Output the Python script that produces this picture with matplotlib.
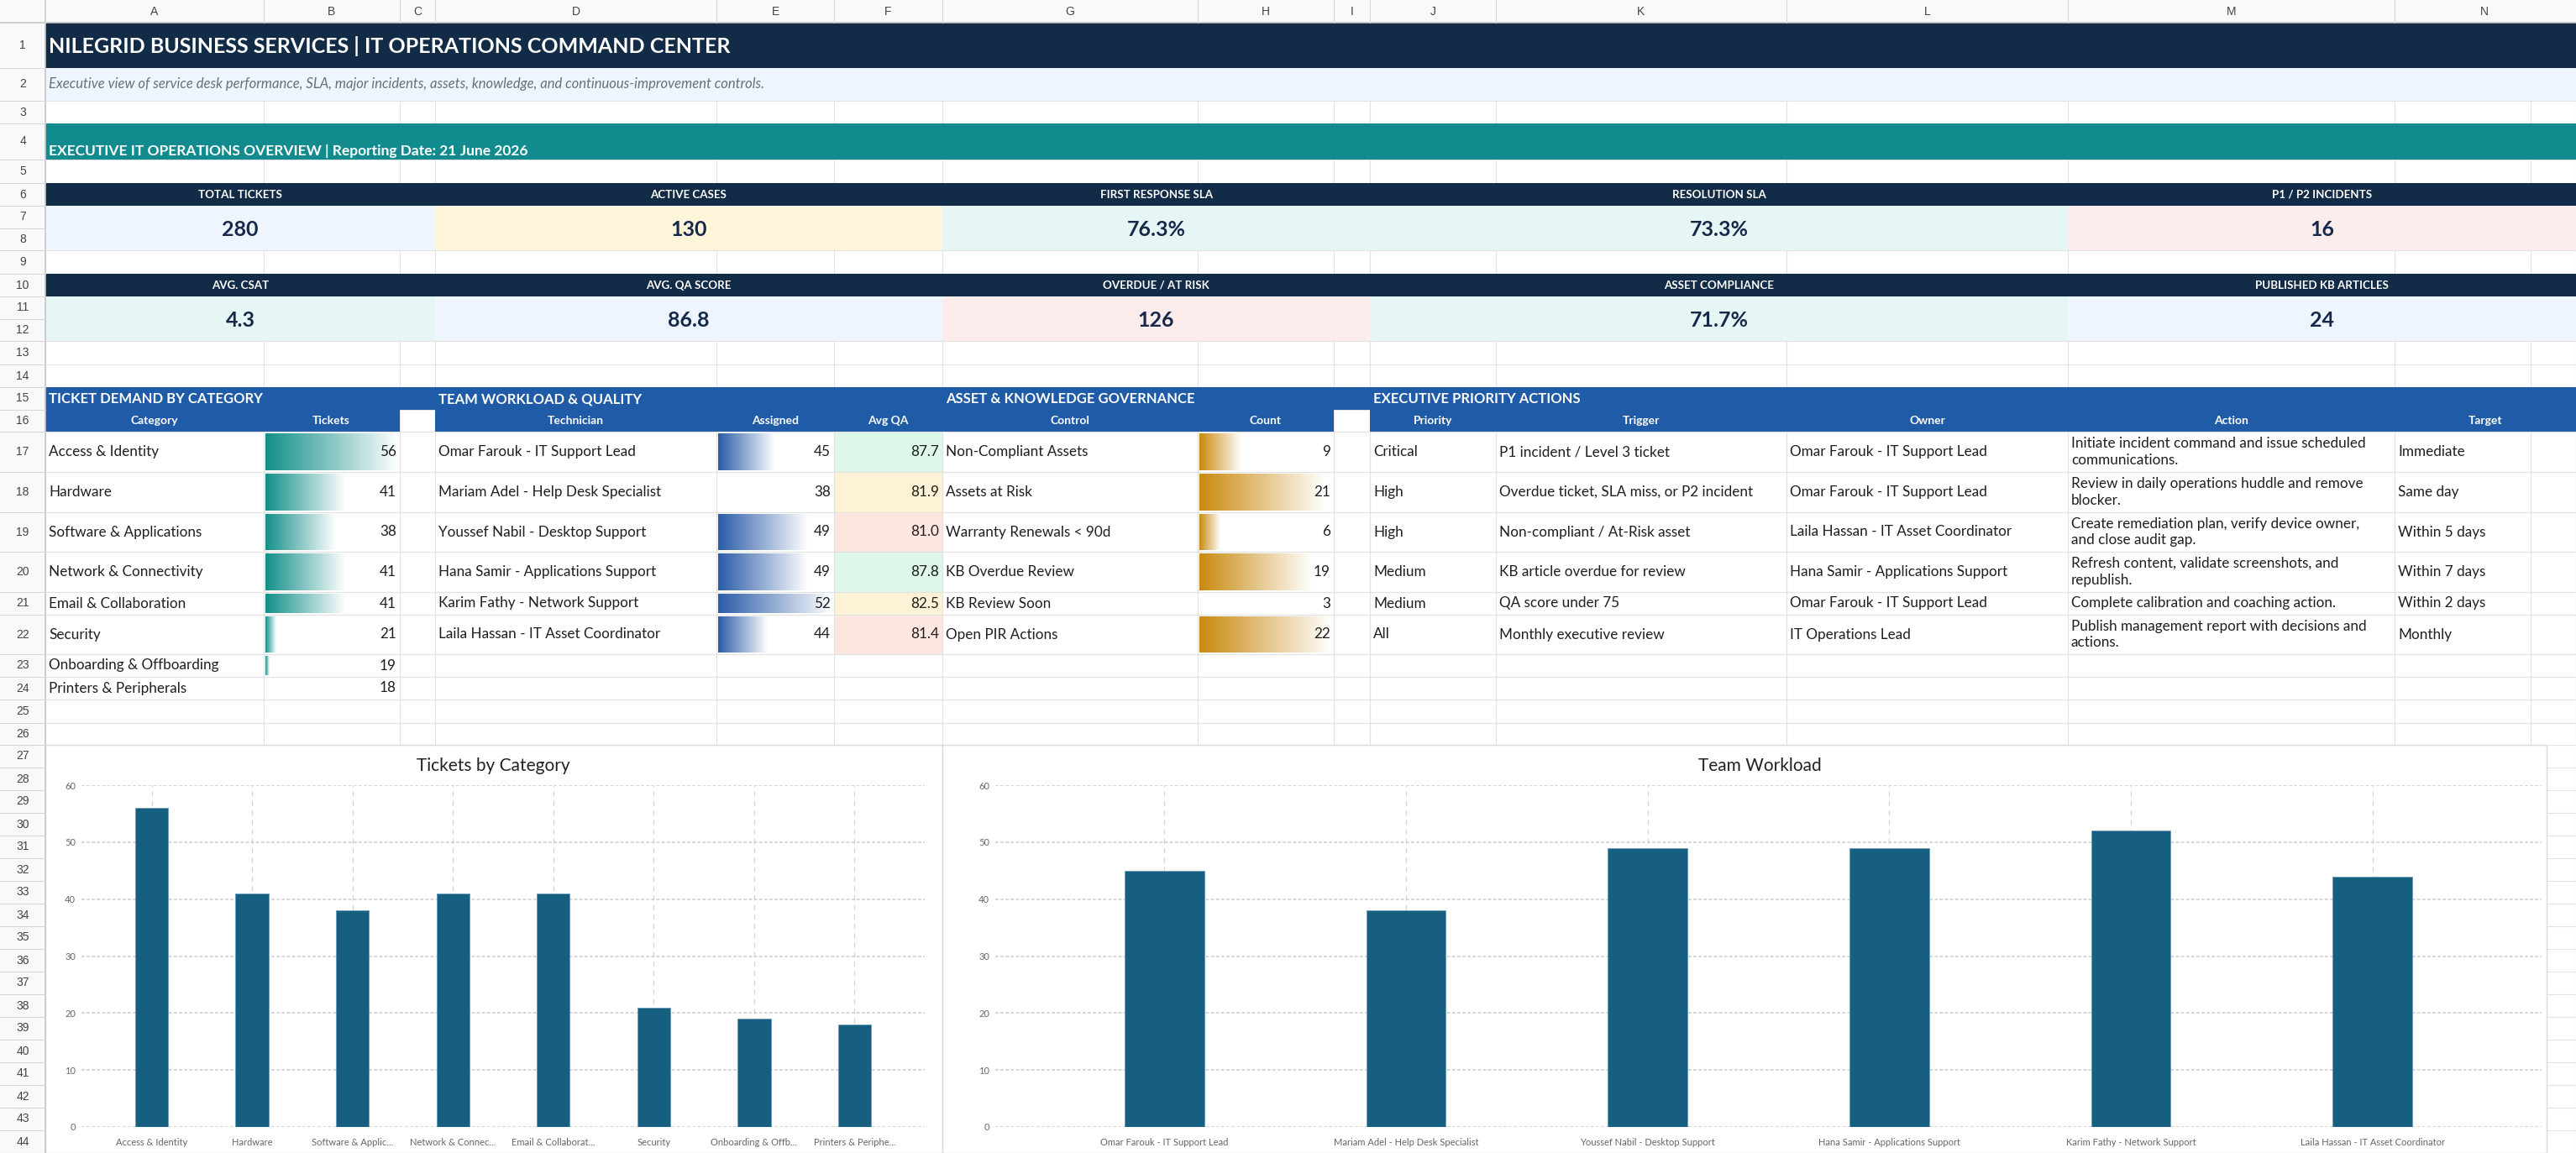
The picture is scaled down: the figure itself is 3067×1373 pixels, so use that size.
import numpy as np
import matplotlib
matplotlib.use('Agg')
import matplotlib.pyplot as plt
from matplotlib.patches import Rectangle
from matplotlib.colors import LinearSegmentedColormap

plt.rcParams['font.family'] = ['Lato', 'DejaVu Sans']

W, H = 3067, 1373

# ---------------- data ----------------
title = 'NILEGRID BUSINESS SERVICES | IT OPERATIONS COMMAND CENTER'
subtitle = ('Executive view of service desk performance, SLA, major incidents, assets, '
            'knowledge, and continuous-improvement controls.')
overview = 'EXECUTIVE IT OPERATIONS OVERVIEW | Reporting Date: 21 June 2026'

kpi_labels_1 = ['TOTAL TICKETS', 'ACTIVE CASES', 'FIRST RESPONSE SLA', 'RESOLUTION SLA', 'P1 / P2 INCIDENTS']
kpi_values_1 = ['280', '130', '76.3%', '73.3%', '16']
kpi_labels_2 = ['AVG. CSAT', 'AVG. QA SCORE', 'OVERDUE / AT RISK', 'ASSET COMPLIANCE', 'PUBLISHED KB ARTICLES']
kpi_values_2 = ['4.3', '86.8', '126', '71.7%', '24']

categories = ['Access & Identity', 'Hardware', 'Software & Applications', 'Network & Connectivity',
              'Email & Collaboration', 'Security', 'Onboarding & Offboarding', 'Printers & Peripherals']
cat_tickets = [56, 41, 38, 41, 41, 21, 19, 18]
cat_short = ['Access & Identity', 'Hardware', 'Software & Applic...', 'Network & Connec...',
             'Email & Collaborat...', 'Security', 'Onboarding & Offb...', 'Printers & Periphe...']

technicians = ['Omar Farouk - IT Support Lead', 'Mariam Adel - Help Desk Specialist',
               'Youssef Nabil - Desktop Support', 'Hana Samir - Applications Support',
               'Karim Fathy - Network Support', 'Laila Hassan - IT Asset Coordinator']
assigned = [45, 38, 49, 49, 52, 44]
avg_qa = [87.7, 81.9, 81.0, 87.8, 82.5, 81.4]

controls = ['Non-Compliant Assets', 'Assets at Risk', 'Warranty Renewals < 90d',
            'KB Overdue Review', 'KB Review Soon', 'Open PIR Actions']
control_counts = [9, 21, 6, 19, 3, 22]

priorities = ['Critical', 'High', 'High', 'Medium', 'Medium', 'All']
triggers = ['P1 incident / Level 3 ticket', 'Overdue ticket, SLA miss, or P2 incident',
            'Non-compliant / At-Risk asset', 'KB article overdue for review',
            'QA score under 75', 'Monthly executive review']
owners = ['Omar Farouk - IT Support Lead', 'Omar Farouk - IT Support Lead',
          'Laila Hassan - IT Asset Coordinator', 'Hana Samir - Applications Support',
          'Omar Farouk - IT Support Lead', 'IT Operations Lead']
actions = ['Initiate incident command and issue scheduled\ncommunications.',
           'Review in daily operations huddle and remove\nblocker.',
           'Create remediation plan, verify device owner,\nand close audit gap.',
           'Refresh content, validate screenshots, and\nrepublish.',
           'Complete calibration and coaching action.',
           'Publish management report with decisions and\nactions.']
targets = ['Immediate', 'Same day', 'Within 5 days', 'Within 7 days', 'Within 2 days', 'Monthly']

# ---------------- sheet layout ----------------
col_names = list('ABCDEFGHIJKLMN')
col_edges = [54, 313.5, 475.7, 518, 853, 993, 1122, 1426, 1588, 1631, 1781, 2127, 2462, 2851, 3067]
row_heights = [54, 39, 27, 43, 28, 27, 27, 26, 28, 27, 27, 26, 28, 27, 27, 26,
               48, 48, 47, 48, 27, 47, 27, 27, 28, 26] + [27] * 18
row_edges = np.concatenate([[27], 27 + np.cumsum(row_heights)])

NAVY = '#122b46'
TEAL = '#118b8d'
PALE_BLUE = '#eef5fe'
SECTION = '#1f5ba6'
KPI_YEL = '#fff5da'
KPI_TEAL = '#e6f6f4'
KPI_PINK = '#fdecec'
GRID = '#e2e2e2'
TXT = '#1f1f1f'

kpi_spans = [('A', 'C'), ('D', 'F'), ('G', 'I'), ('J', 'L'), ('M', 'N')]
kpi_bg_1 = [PALE_BLUE, KPI_YEL, KPI_TEAL, KPI_TEAL, KPI_PINK]
kpi_bg_2 = [KPI_TEAL, PALE_BLUE, KPI_PINK, KPI_TEAL, PALE_BLUE]

fig = plt.figure(figsize=(W / 100, H / 100), dpi=100)
ax = fig.add_axes([0, 0, 1, 1])
ax.axis('off')


def ci(c):
    return col_names.index(c)


def span(c0, c1, r0, r1):
    return col_edges[ci(c0)], col_edges[ci(c1) + 1], row_edges[r0 - 1], row_edges[r1]


def fill(c0, c1, r0, r1, color, z=1):
    x0, x1, y0, y1 = span(c0, c1, r0, r1)
    ax.add_patch(Rectangle((x0, y0), x1 - x0, y1 - y0, facecolor=color, edgecolor='none', zorder=z))


def put(c0, c1, r0, r1, s, ha='left', dy=0, **kw):
    x0, x1, y0, y1 = span(c0, c1, r0, r1)
    if ha == 'left':
        x = x0 + 4
    elif ha == 'right':
        x = x1 - 4
    else:
        x = (x0 + x1) / 2
    kw.setdefault('color', TXT)
    kw.setdefault('fontsize', 12.3)
    ax.text(x, (y0 + y1) / 2 + dy, s, ha=ha, va='center', zorder=5, **kw)


def data_bar(col, row, frac, color):
    x0, x1, y0, y1 = span(col, col, row, row)
    if frac <= 0:
        return
    cmap = LinearSegmentedColormap.from_list('g', [color, '#ffffff'])
    grad = np.linspace(0, 1, 256)[None, :]
    ax.imshow(grad, cmap=cmap, aspect='auto', interpolation='bilinear',
              extent=(x0 + 2, x0 + 2 + frac * (x1 - x0 - 4), y1 - 2, y0 + 2), zorder=1.5)


# base grid
for x in col_edges + [3013]:
    ax.plot([x, x], [row_edges[0], H], color=GRID, lw=0.8, zorder=0)
for y in row_edges:
    ax.plot([col_edges[0], W], [y, y], color=GRID, lw=0.8, zorder=0)

# title band
fill('A', 'N', 1, 1, NAVY)
put('A', 'N', 1, 1, title, fontsize=18, fontweight='bold', color='white', dy=1)
fill('A', 'N', 2, 2, PALE_BLUE)
put('A', 'N', 2, 2, subtitle, fontsize=12, style='italic', color='#6b6f76')
fill('A', 'N', 4, 4, TEAL)
put('A', 'N', 4, 4, overview, fontsize=12.5, fontweight='bold', color='white', dy=11)

# KPI cards
for r_lab, labels, values, bgs in [(6, kpi_labels_1, kpi_values_1, kpi_bg_1),
                                   (10, kpi_labels_2, kpi_values_2, kpi_bg_2)]:
    for (c0, c1), lab, val, bg in zip(kpi_spans, labels, values, bgs):
        fill(c0, c1, r_lab, r_lab, NAVY)
        put(c0, c1, r_lab, r_lab, lab, ha='center', fontsize=9.6, fontweight='bold', color='white')
        fill(c0, c1, r_lab + 1, r_lab + 2, bg)
        put(c0, c1, r_lab + 1, r_lab + 2, val, ha='center', fontsize=18, fontweight='bold',
            color='#15294a', dy=2)

# section headers
fill('A', 'N', 15, 15, SECTION)
for c, s in [('A', 'TICKET DEMAND BY CATEGORY'), ('D', 'TEAM WORKLOAD & QUALITY'),
             ('G', 'ASSET & KNOWLEDGE GOVERNANCE'), ('J', 'EXECUTIVE PRIORITY ACTIONS')]:
    put(c, c, 15, 15, s, fontsize=12, fontweight='bold', color='white', dy=1)
for c0, c1 in [('A', 'B'), ('D', 'H'), ('J', 'N')]:
    fill(c0, c1, 16, 16, SECTION)
for c, s in zip('ABDEFGHJKLMN', ['Category', 'Tickets', 'Technician', 'Assigned', 'Avg QA',
                                 'Control', 'Count', 'Priority', 'Trigger', 'Owner', 'Action', 'Target']):
    put(c, c, 16, 16, s, ha='center', fontsize=10, fontweight='bold', color='white')

# ticket demand table
t_lo, t_hi = min(cat_tickets), max(cat_tickets)
for i, (name, v) in enumerate(zip(categories, cat_tickets)):
    r = 17 + i
    data_bar('B', r, (v - t_lo) / (t_hi - t_lo), '#138f89')
    put('A', 'A', r, r, name)
    put('B', 'B', r, r, str(v), ha='right')


def qa_color(v):
    if v >= 85:
        return '#ddf8e8'
    if v >= 81.5:
        return '#fdf2d5'
    return '#fde6df'


a_lo, a_hi = min(assigned), max(assigned)
c_lo, c_hi = min(control_counts), max(control_counts)
for i in range(len(technicians)):
    r = 17 + i
    fill('F', 'F', r, r, qa_color(avg_qa[i]))
    data_bar('E', r, (assigned[i] - a_lo) / (a_hi - a_lo), '#2b5ca8')
    data_bar('H', r, (control_counts[i] - c_lo) / (c_hi - c_lo), '#c98a0f')
    put('D', 'D', r, r, technicians[i])
    put('E', 'E', r, r, str(assigned[i]), ha='right')
    put('F', 'F', r, r, f'{avg_qa[i]:.1f}', ha='right')
    put('G', 'G', r, r, controls[i])
    put('H', 'H', r, r, str(control_counts[i]), ha='right')
    put('J', 'J', r, r, priorities[i])
    put('K', 'K', r, r, triggers[i])
    put('L', 'L', r, r, owners[i])
    put('M', 'M', r, r, actions[i], linespacing=1.3)
    put('N', 'N', r, r, targets[i])

# table grid on top of fills
for y in row_edges[16:26]:
    ax.plot([col_edges[0], W], [y, y], color=GRID, lw=0.8, zorder=2)
for x in col_edges + [3013]:
    ax.plot([x, x], [row_edges[16], row_edges[26]], color=GRID, lw=0.8, zorder=2)

# sheet headers (column letters / row numbers)
ax.add_patch(Rectangle((0, 0), W, 27, facecolor='#f8f9fa', edgecolor='none', zorder=6))
ax.add_patch(Rectangle((0, 0), 54, H, facecolor='#f8f9fa', edgecolor='none', zorder=6))
ax.plot([0, W], [27, 27], color='#c4c7c5', lw=1.2, zorder=7)
ax.plot([54, 54], [0, H], color='#c4c7c5', lw=1.2, zorder=7)
for i, c in enumerate(col_names):
    xm = (col_edges[i] + col_edges[i + 1]) / 2
    if c == 'N':
        xm = 2958
    ax.text(xm, 14, c, ha='center', va='center', fontsize=10, color='#444444',
            family='Liberation Sans', zorder=8)
    ax.plot([col_edges[i], col_edges[i]], [0, 27], color='#d6d6d6', lw=0.8, zorder=7)
for r in range(1, 45):
    y0, y1 = row_edges[r - 1], row_edges[r]
    ax.text(27, (y0 + y1) / 2, str(r), ha='center', va='center', fontsize=10, color='#444444',
            family='Liberation Sans', zorder=8)
    ax.plot([0, 54], [y1, y1], color='#d6d6d6', lw=0.8, zorder=7)

# chart boxes
y_top = row_edges[26]
ax.add_patch(Rectangle((54, y_top), 1122 - 54, H - y_top, facecolor='white', edgecolor='#d9d9d9',
                       lw=1, zorder=4))
ax.add_patch(Rectangle((1122, y_top), 3032 - 1122, H - y_top, facecolor='white', edgecolor='#d9d9d9',
                       lw=1, zorder=4))
ax.text(587, 912, 'Tickets by Category', ha='center', va='center', fontsize=15, color='#222222', zorder=5)
ax.text(2095, 912, 'Team Workload', ha='center', va='center', fontsize=15, color='#222222', zorder=5)

ax.set_xlim(0, W)
ax.set_ylim(H, 0)


def bar_chart(left, right, labels, values):
    a = fig.add_axes([left / W, (H - 1342) / H, (right - left) / W, (1342 - 935) / H])
    a.set_facecolor('none')
    n = len(values)
    a.bar(range(n), values, width=0.33, color='#175f81', edgecolor='#6b9bb8', linewidth=0.6, zorder=3)
    a.set_xlim(-0.7, n - 1 + 0.7)
    a.set_ylim(0, 60)
    a.set_yticks(range(0, 61, 10))
    a.set_xticks(range(n))
    a.set_xticklabels(labels)
    a.yaxis.grid(True, color='#cccccc', lw=1.1, linestyle=(0, (2.5, 1.5)), zorder=0)
    a.xaxis.grid(True, color='#d4d4d4', lw=0.9, linestyle=(0, (5, 4)), zorder=0)
    a.set_axisbelow(True)
    for s in a.spines.values():
        s.set_visible(False)
    a.tick_params(axis='both', length=0, labelsize=8, labelcolor='#666666')
    a.tick_params(axis='x', pad=9)
    a.tick_params(axis='y', pad=5)
    return a


bar_chart(97, 1101, cat_short, cat_tickets)
bar_chart(1185, 3026, technicians, assigned)

fig.savefig('out.png', dpi=100)
